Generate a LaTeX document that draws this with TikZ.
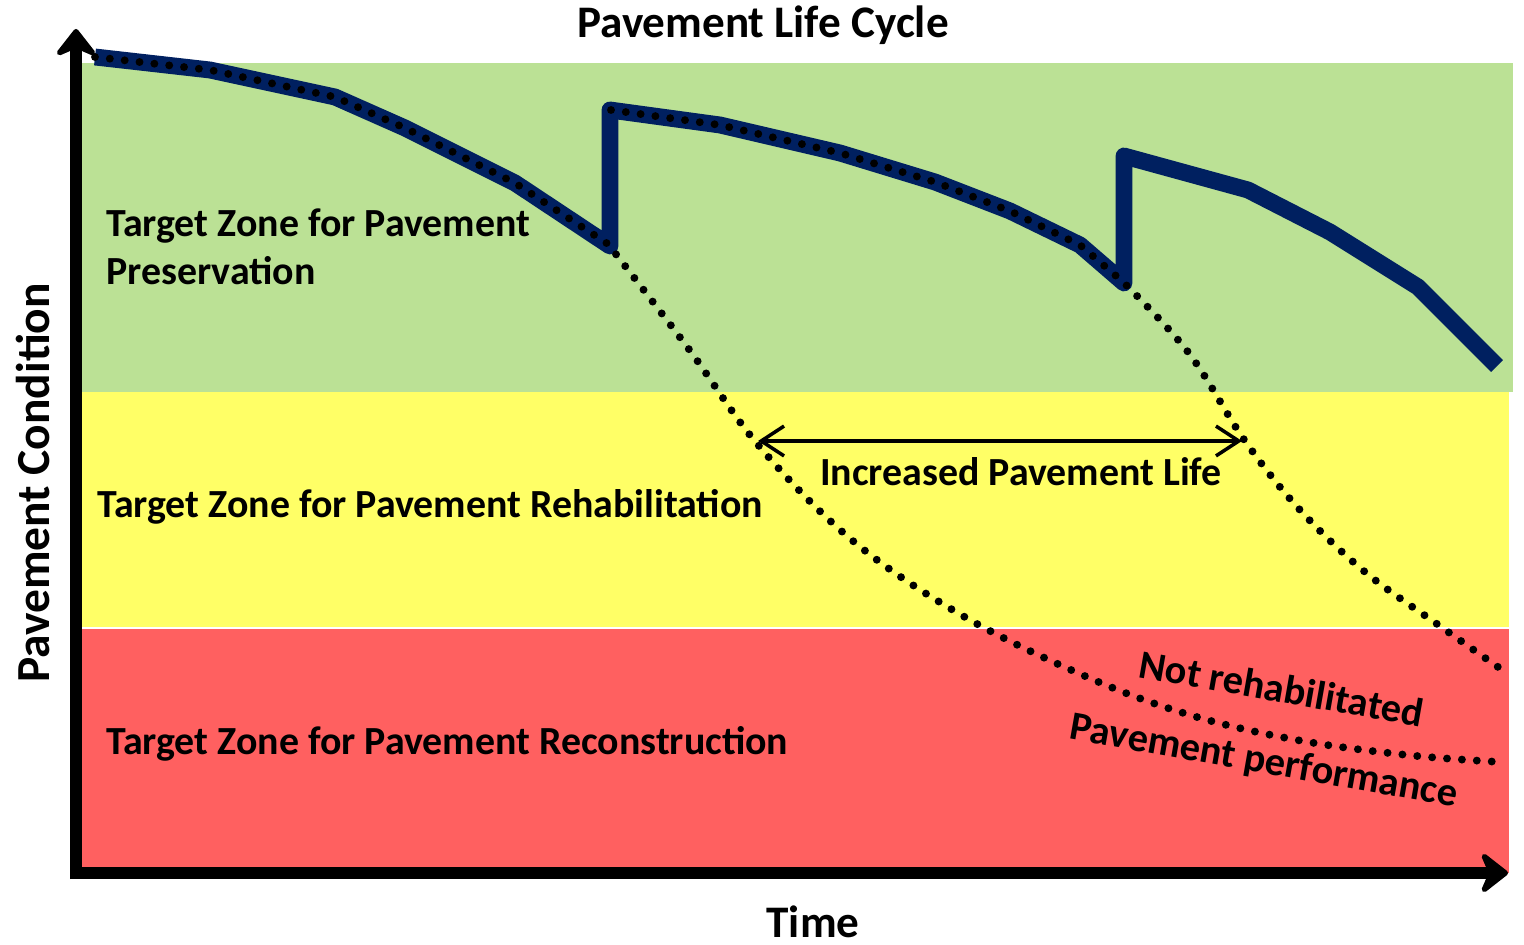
\documentclass[tikz,border=0pt]{standalone}
\usepackage{fontspec}
\setmainfont{Carlito}
\usetikzlibrary{arrows.meta}

\definecolor{zonegreen}{RGB}{187,225,149}
\definecolor{zoneyellow}{RGB}{255,255,102}
\definecolor{zonered}{RGB}{255,96,96}
\definecolor{perfblue}{RGB}{0,32,96}

\begin{document}
\begin{tikzpicture}[x=0.02cm,y=-0.02cm,inner sep=0pt,font=\fontsize{22.7}{27}\selectfont\bfseries,
  perf/.style={line width=9.6pt,perfblue,line join=round},
  dots/.style={line width=4.5pt,line cap=round,dash pattern=on 0pt off 8.5pt},
  axis/.style={line width=6.8pt,-{Stealth[round,length=18pt,width=28pt,inset=6pt]}},
  lbl/.style={anchor=base west},
  big/.style={anchor=base,font=\fontsize{25.7}{30}\selectfont\bfseries},
  tilted/.style={anchor=base,rotate=-10,font=\fontsize{23}{27}\selectfont\bfseries}]
\useasboundingbox (0,0) rectangle (1524,945);
% zones
\fill[zonegreen] (76,63) rectangle (1513,392);
\fill[zoneyellow] (76,392) rectangle (1509,628);
\fill[zonered] (76,628) rectangle (1509,873);
\draw[white,line width=0.6pt] (76,628) -- (1509,628);
% pavement performance with two treatments
\draw[perf] (95,57) -- (210,70) -- (335,97) -- (405,128) -- (515,183) -- (610,246)
  -- (610,110) -- (720,125) -- (840,153) -- (935,182) -- (1010,211) -- (1080,245) -- (1124,283)
  -- (1124,156) -- (1248,190) -- (1330,232) -- (1418,287) -- (1497,366);
% not rehabilitated
\draw[dots] (95,57) -- (210,70) -- (335,97) -- (405,128) -- (515,183) -- (608,244)
  -- plot[smooth,tension=0.6] coordinates {(608,244) (688,348) (759,446) (853,541) (963,616)
  (1087,677) (1190,715) (1297,740) (1407,755) (1500,762)};
\draw[dots] (611,110) -- (720,125) -- (840,153) -- (935,182) -- (1010,211) -- (1080,245) -- (1122,281)
  -- plot[smooth,tension=0.6] coordinates {(1122,281) (1188,352) (1245,441) (1300,510)
  (1365,572) (1437,624) (1498,667)};
% axes
\draw[axis] (76,879) -- (76,29);
\draw[axis] (70,873) -- (1508,873);
% increased life
\coordinate (lifeL) at (758,441);
\coordinate (lifeR) at (1242,441);
\draw[line width=2pt,{Straight Barb[length=13pt,width=17pt]}-{Straight Barb[length=13pt,width=17pt]}] (lifeL) -- (lifeR);
\node[anchor=base] (lifelbl) at (1021,485) {Increased Pavement Life};
% labels
\node[big] (title) at (763,38) {Pavement Life Cycle};
\node[big] (timelbl) at (813,937) {Time};
\node[big,rotate=90,font=\fontsize{27}{32}\selectfont\bfseries] (condlbl) at (50,483) {Pavement Condition};
\node[lbl] (presA) at (106,237) {Target Zone for Pavement};
\node[lbl] (presB) at (106,285) {Preservation};
\node[lbl] (rehab) at (97,518) {Target Zone for Pavement Rehabilitation};
\node[lbl] (recon) at (106,754) {Target Zone for Pavement Reconstruction};
\node[tilted] (notrehab) at (1279,702) {Not rehabilitated};
\node[tilted] (perflbl) at (1262,773) {Pavement performance};
\end{tikzpicture}
\end{document}
